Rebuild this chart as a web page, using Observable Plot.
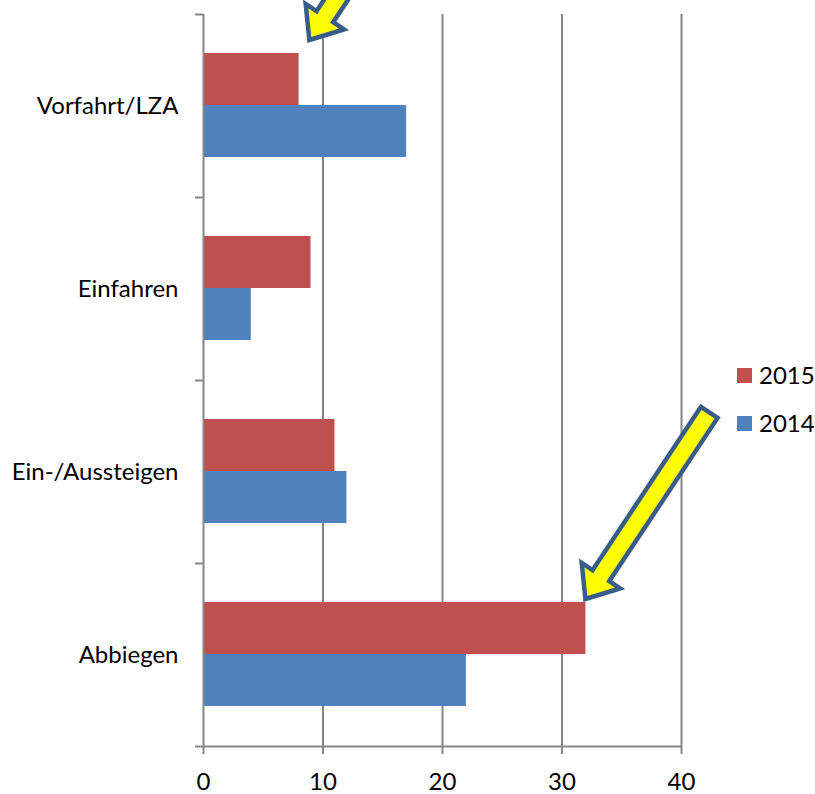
<!DOCTYPE html>
<html>
<head>
<meta charset="utf-8">
<script src="https://cdn.jsdelivr.net/npm/d3@7"></script>
<script src="https://cdn.jsdelivr.net/npm/@observablehq/plot@0.6"></script>
<style>
  body { margin: 0; background: #fff; font-family: Lato, "Open Sans", sans-serif; }
  #wrap { position: relative; width: 815px; height: 794px; overflow: hidden; }
  .legend { position: absolute; left: 737px; font-size: 24px; color: #000; line-height: 1; }
  .legend .item { display: flex; align-items: center; height: 48px; }
  .legend .sw { width: 15px; height: 15px; margin-right: 7px; }
</style>
</head>
<body>
<div id="wrap"></div>
<script>
// ---- data ----
const categories = ["Vorfahrt/LZA", "Einfahren", "Ein-/Aussteigen", "Abbiegen"];
const values2015 = [8, 9, 11, 32];
const values2014 = [17, 4, 12, 22];
const seriesNames = ["2015", "2014"];
const seriesColors = ["#C0504D", "#4F81BD"];
const xTicks = [0, 10, 20, 30, 40];
// annotation arrows: tip x value and category they point into
const arrowTipX = [8.9, 32];
const arrowTipCategory = ["Vorfahrt/LZA", "Abbiegen"];

const rows2015 = categories.map((c, i) => ({cat: c, series: seriesNames[0], value: values2015[i]}));
const rows2014 = categories.map((c, i) => ({cat: c, series: seriesNames[1], value: values2014[i]}));

const gray = "#868686";
const font = "Lato, 'Open Sans', sans-serif";

// block arrow render mark
function arrows(index, scales, values, dims) {
  const g = d3.create("svg:g");
  const ux = 0.553, uy = -0.833;       // direction from tip toward tail
  const px = -uy, py = ux;              // perpendicular
  const tipOffsets = [26, 36];          // px below band top
  const lengths = [120, 224];
  const Lh = 28, Wh = 46, Ws = 20;
  arrowTipX.forEach((xv, k) => {
    const tx = scales.x(xv);
    const ty = scales.y(arrowTipCategory[k]) + tipOffsets[k];
    const L = lengths[k];
    const pt = (a, b) => [tx + ux * a + px * b, ty + uy * a + py * b];
    const pts = [
      pt(0, 0), pt(Lh, Wh / 2), pt(Lh, Ws / 2), pt(L, Ws / 2),
      pt(L, -Ws / 2), pt(Lh, -Ws / 2), pt(Lh, -Wh / 2)
    ];
    g.append("path")
      .attr("d", "M" + pts.map(p => p.join(",")).join("L") + "Z")
      .attr("fill", "#FFFF00")
      .attr("stroke", "#385D8A")
      .attr("stroke-width", 4.5)
      .attr("stroke-linejoin", "miter");
  });
  return g.node();
}

const plot = Plot.plot({
  width: 815,
  height: 794,
  marginLeft: 203,
  marginRight: 134,
  marginTop: 14,
  marginBottom: 48,
  style: {fontFamily: font, fontSize: "24px", color: "#000", background: "#fff"},
  x: {domain: [0, 40], label: null},
  y: {domain: categories, padding: 0, label: null},
  marks: [
    Plot.gridX(xTicks.slice(1), {stroke: gray, strokeOpacity: 1, strokeWidth: 2}),
    Plot.barX(rows2015, {x: "value", y: "cat", fill: seriesColors[0], insetTop: 39, insetBottom: 92}),
    Plot.barX(rows2014, {x: "value", y: "cat", fill: seriesColors[1], insetTop: 91, insetBottom: 40}),
    Plot.ruleX([0], {stroke: gray, strokeWidth: 2}),
    Plot.ruleY(categories, {y: d => d, x1: -0.67, x2: 0, dy: -91.5, stroke: gray, strokeWidth: 2}),
    Plot.ruleY([categories[categories.length - 1]], {y: d => d, x1: -0.67, x2: 40, dy: 91.5, stroke: gray, strokeWidth: 2}),
    Plot.axisX({ticks: xTicks, tickSize: 8, tickPadding: 18, stroke: gray, strokeWidth: 2, strokeOpacity: 1, tickFormat: d => String(d), fill: "#000", fontSize: 24}),
    Plot.axisY({tickSize: 0, tickPadding: 25, fill: "#000", fontSize: 24}),
    arrows
  ]
});

const wrap = document.getElementById("wrap");
wrap.appendChild(plot);

const legend = document.createElement("div");
legend.className = "legend";
legend.style.top = "351px";
seriesNames.forEach((name, i) => {
  const item = document.createElement("div");
  item.className = "item";
  const sw = document.createElement("span");
  sw.className = "sw";
  sw.style.background = seriesColors[i];
  const t = document.createElement("span");
  t.textContent = name;
  item.appendChild(sw);
  item.appendChild(t);
  legend.appendChild(item);
});
wrap.appendChild(legend);
</script>
</body>
</html>
